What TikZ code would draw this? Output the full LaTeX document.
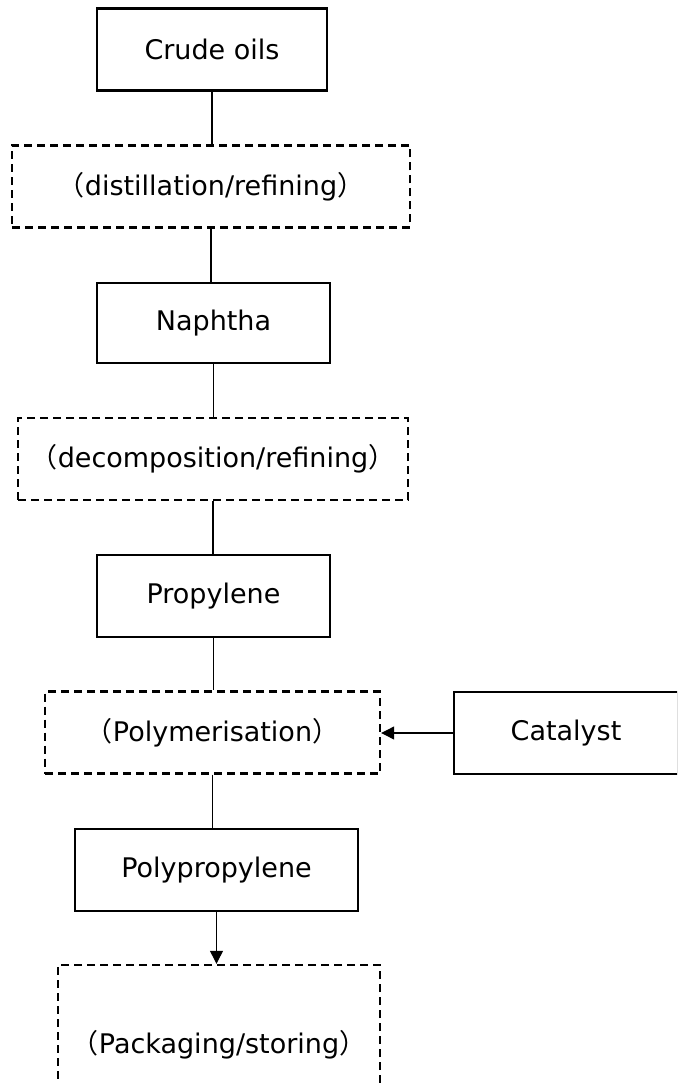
\documentclass[tikz,border=0pt]{standalone}
\usepackage{fontspec}
\setmainfont{DejaVu Sans}
\newfontfamily\cjk{Noto Sans CJK JP}
\usetikzlibrary{arrows.meta}
\newcommand{\lp}{{\cjk （}}
\newcommand{\rp}{{\cjk ）}}
\begin{document}
\begin{tikzpicture}[x=1pt,y=-1pt,
  solidbox/.style={draw,line width=2.4pt,minimum height=82pt,inner sep=0pt,font=\fontsize{27}{32}\selectfont},
  dashbox/.style={draw,line width=2.4pt,dash pattern=on 8pt off 5pt,minimum height=82pt,inner sep=0pt,font=\fontsize{27}{32}\selectfont},
  conn/.style={line width=1.2pt},
  arr/.style={line width=1.2pt,-{Triangle[length=13pt,width=13pt]}}]
\useasboundingbox (0,0) rectangle (677,1083);
\clip (0,0) rectangle (677,1083);
\node[solidbox,minimum width=230pt] (crude) at (212,49.5) {Crude oils};
\node[dashbox,minimum width=398pt] (distill) at (211,186.5) {\lp distillation/refining\rp};
\node[solidbox,minimum width=233pt,minimum height=80pt] (naphtha) at (213.5,323) {Naphtha};
\node[dashbox,minimum width=390pt] (decomp) at (213,459) {\lp decomposition/refining\rp};
\node[solidbox,minimum width=233pt] (propylene) at (213.5,596) {Propylene};
\node[dashbox,minimum width=335pt] (polymer) at (212.5,732.5) {\lp Polymerisation\rp};
\node[solidbox,minimum width=224pt,text width=224pt,align=center] (catalyst) at (566,733) {Catalyst};
\node[solidbox,minimum width=283pt] (polyprop) at (216.5,870) {Polypropylene};
\node[dashbox,minimum width=322pt,minimum height=160pt] (packaging) at (219,1045) {\lp Packaging/storing\rp};
\draw[conn] (crude.south) -- (crude.south |- distill.north);
\draw[conn] (distill.south) -- (distill.south |- naphtha.north);
\draw[conn] (naphtha.south) -- (naphtha.south |- decomp.north);
\draw[conn] (decomp.south) -- (decomp.south |- propylene.north);
\draw[conn] (propylene.south) -- (propylene.south |- polymer.north);
\draw[conn] (polymer.south) -- (polymer.south |- polyprop.north);
\draw[arr] (catalyst.west) -- (catalyst.west -| polymer.east);
\draw[arr] (polyprop.south) -- (polyprop.south |- packaging.north);
\end{tikzpicture}
\end{document}
